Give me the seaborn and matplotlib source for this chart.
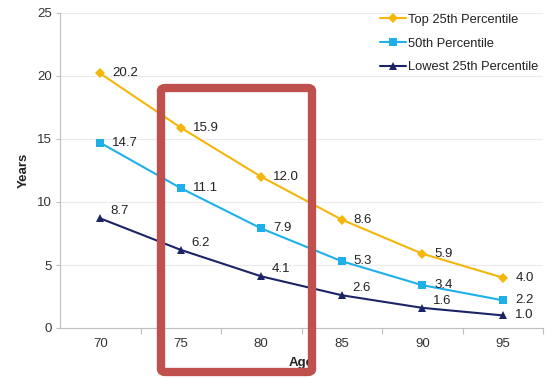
import matplotlib
matplotlib.use("Agg")
import matplotlib.pyplot as plt
import seaborn as sns
import pandas as pd
from matplotlib.patches import FancyBboxPatch
from matplotlib.ticker import FixedLocator

ages = [70, 75, 80, 85, 90, 95]
top25 = [20.2, 15.9, 12.0, 8.6, 5.9, 4.0]
p50 = [14.7, 11.1, 7.9, 5.3, 3.4, 2.2]
low25 = [8.7, 6.2, 4.1, 2.6, 1.6, 1.0]
series_names = ["Top 25th Percentile", "50th Percentile", "Lowest 25th Percentile"]
y_ticks = [0, 5, 10, 15, 20, 25]

colors = ["#F5B60A", "#1FB0EA", "#1B2466"]
markers = ["D", "s", "^"]

df = pd.DataFrame({
    "Age": ages * 3,
    "Years": top25 + p50 + low25,
    "Series": sum([[n] * len(ages) for n in series_names], []),
})

sns.set_theme(style="white")
plt.rcParams['font.family'] = ['Liberation Sans', 'DejaVu Sans']

fig = plt.figure(figsize=(5.48, 3.78), dpi=100)
ax = fig.add_axes([60/548, 1-328/378, (543-60)/548, (328-13)/378])

sns.lineplot(data=df, x="Age", y="Years", hue="Series", style="Series",
             palette=colors, markers=markers, dashes=False, markersize=5.5,
             markeredgewidth=0, linewidth=1.5, ax=ax, legend=True)

ax.set_xlim(67.5, 97.5)
ax.set_ylim(0, 25)
ax.set_yticks(y_ticks)
ax.set_xticks(ages)
ax.xaxis.set_minor_locator(FixedLocator([72.5, 77.5, 82.5, 87.5, 92.5, 97.5]))
ax.tick_params(axis='x', which='major', length=0, labelsize=9.5, colors="#333333", pad=7)
ax.tick_params(axis='x', which='minor', length=4, color="#BFBFBF", width=0.8, bottom=True)
ax.tick_params(axis='y', length=3, color="#BFBFBF", width=0.8, labelsize=9.5,
               labelcolor="#333333", left=True, pad=3)
ax.grid(axis='y', color="#EBEBEB", linewidth=0.8)
for s in ["top", "right"]:
    ax.spines[s].set_visible(False)
for s in ["left", "bottom"]:
    ax.spines[s].set_color("#BFBFBF")
    ax.spines[s].set_linewidth(0.8)

ax.set_ylabel("Years", fontsize=9.5, fontweight="bold", color="#222222", labelpad=5)
ax.set_xlabel("Age", fontsize=9.5, fontweight="bold", color="#222222", labelpad=5)

for vals, off in [(top25, (8.5, 0)), (p50, (8.5, 0)), (low25, (7.5, 5))]:
    for i, (a, v) in enumerate(zip(ages, vals)):
        xy = (9, 0) if i == len(ages) - 1 else off
        ax.annotate(f"{v:.1f}", (a, v), xytext=xy, textcoords="offset points",
                    ha="left", va="center", fontsize=9.5, color="#222222")

leg = ax.legend(loc="upper right", bbox_to_anchor=(1.015, 1.035), frameon=False,
                fontsize=9.3, handlelength=2.0, handletextpad=0.2, labelspacing=0.92)
for t in leg.get_texts():
    t.set_color("#222222")

rect = FancyBboxPatch((161/548, 1-372/378), (312-161)/548, (372-88)/378,
                      boxstyle="round,pad=0,rounding_size=0.008",
                      transform=fig.transFigure, facecolor="none",
                      edgecolor="#C0504D", linewidth=6, zorder=10)
fig.patches.append(rect)

fig.savefig("out.png", dpi=100)
